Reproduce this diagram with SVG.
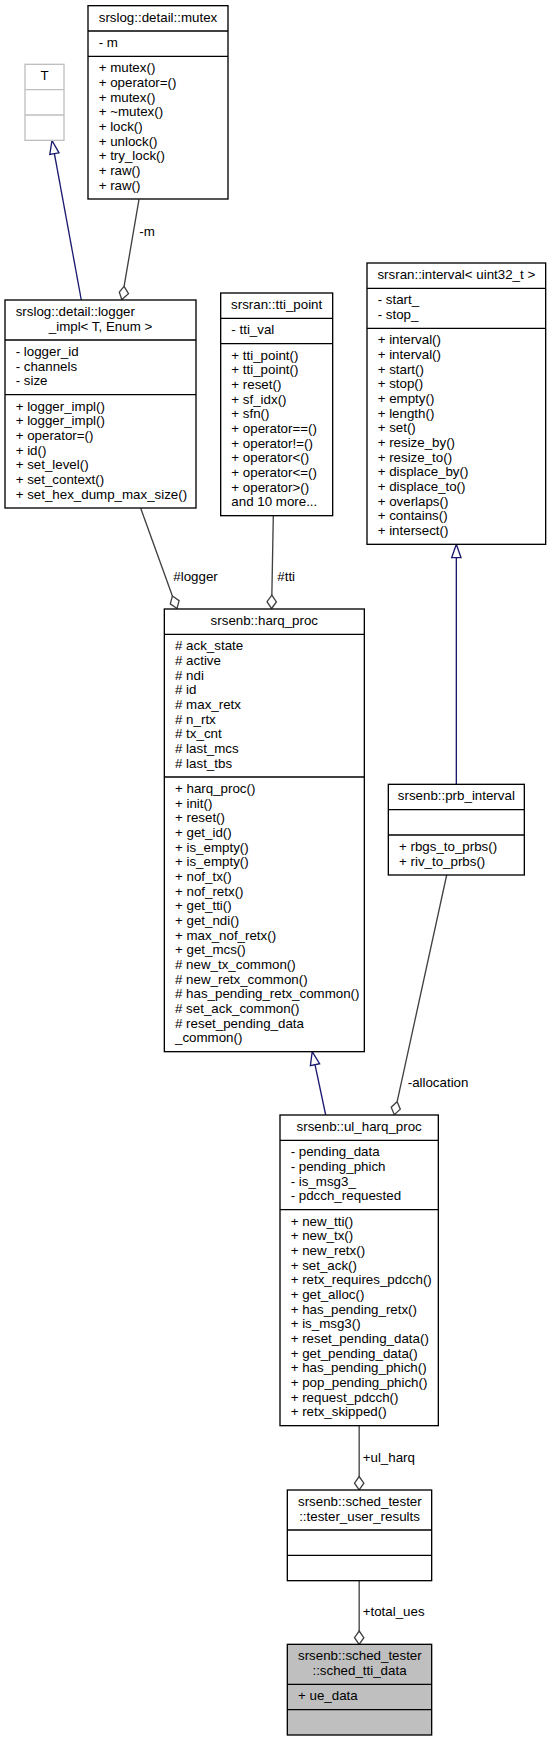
<svg xmlns="http://www.w3.org/2000/svg" width="551" height="1741" viewBox="0 0 551 1741">
<style>
text{font-family:"Liberation Sans",Arial,sans-serif;font-size:13.33px;fill:#000}
.c{text-anchor:middle}
.b{fill:#fff;stroke:#000;stroke-width:1.33}
.g{fill:#fff;stroke:#bfbfbf;stroke-width:1.33}
.h{fill:#bfbfbf;stroke:#000;stroke-width:1.33}
.s{stroke:#000;stroke-width:1.33}
.sg{stroke:#bfbfbf;stroke-width:1.33}
.u{fill:none;stroke:#404040;stroke-width:1.33}
.ud{fill:#fff;stroke:#404040;stroke-width:1.33}
.i{fill:none;stroke:#191970;stroke-width:1.33}
.it{fill:#fff;stroke:#191970;stroke-width:1.33}
</style>
<rect width="551" height="1741" fill="#fff"/>
<g id="connectors">
<path class="i" d="M81.3,300 L54.4,153.6"/>
<polygon class="it" points="52,140.5 59,152.8 49.8,154.4"/>
<path class="u" d="M139,199.3 L124.07,286.37"/>
<polygon class="ud" points="124.07,286.37 128.5,293.7 121.8,299.5 119.3,292.1"/>
<text x="139.3" y="235.5">-m</text>
<path class="u" d="M140.7,508.3 L172.4,596"/>
<polygon class="ud" points="172.4,596 179.1,600.6 177,608.5 170.3,603.9"/>
<text x="173.3" y="580.5">#logger</text>
<path class="u" d="M273.3,515.67 L271.85,595.2"/>
<polygon class="ud" points="271.85,595.2 276.4,601.9 271.6,608.5 267,601.7"/>
<text x="277.3" y="580.5">#tti</text>
<path class="i" d="M325.7,1115 L315,1064.7"/>
<polygon class="it" points="312.2,1051.67 319.6,1063.7 310.4,1065.7"/>
<path class="i" d="M456.33,784.33 L456.33,557.67"/>
<polygon class="it" points="456.33,544.33 461,557.67 451.66,557.67"/>
<path class="u" d="M446.7,875 L397.15,1101.7"/>
<polygon class="ud" points="397.15,1101.7 400.3,1109.2 394.3,1114.7 391.2,1107.2"/>
<text x="407.7" y="1087">-allocation</text>
<path class="u" d="M359.17,1425.67 L359.17,1476.5"/>
<polygon class="ud" points="359.17,1476.5 363.84,1483.2 359.17,1489.8 354.5,1483.2"/>
<text x="362.7" y="1461.5">+ul_harq</text>
<path class="u" d="M359.17,1580.67 L359.17,1631"/>
<polygon class="ud" points="359.17,1631 363.84,1637.7 359.17,1644.33 354.5,1637.7"/>
<text x="362.7" y="1616">+total_ues</text>
</g>
<g id="node_T">
<rect class="g" x="25" y="64.33" width="39" height="76"/>
<line class="sg" x1="25" y1="89.67" x2="64" y2="89.67"/>
<line class="sg" x1="25" y1="115" x2="64" y2="115"/>
<text class="c" x="44.5" y="80.33">T</text>
</g>
<g id="node_mutex">
<rect class="b" x="88" y="5.67" width="140" height="193.33"/>
<line class="s" x1="88" y1="31" x2="228" y2="31"/>
<line class="s" x1="88" y1="56.33" x2="228" y2="56.33"/>
<text class="c" x="158" y="21.67">srslog::detail::mutex</text>
<text x="98.67" y="47">- m</text>
<text x="98.67" y="72.33">+ mutex()</text>
<text x="98.67" y="87">+ operator=()</text>
<text x="98.67" y="101.67">+ mutex()</text>
<text x="98.67" y="116.33">+ ~mutex()</text>
<text x="98.67" y="131">+ lock()</text>
<text x="98.67" y="145.67">+ unlock()</text>
<text x="98.67" y="160.33">+ try_lock()</text>
<text x="98.67" y="175">+ raw()</text>
<text x="98.67" y="189.67">+ raw()</text>
</g>
<g id="node_logger_impl">
<rect class="b" x="5" y="300" width="191" height="208"/>
<line class="s" x1="5" y1="340" x2="196" y2="340"/>
<line class="s" x1="5" y1="394.67" x2="196" y2="394.67"/>
<text x="15.67" y="316">srslog::detail::logger</text>
<text class="c" x="100.5" y="330.67">_impl&lt; T, Enum &gt;</text>
<text x="15.67" y="356">- logger_id</text>
<text x="15.67" y="370.67">- channels</text>
<text x="15.67" y="385.33">- size</text>
<text x="15.67" y="410.67">+ logger_impl()</text>
<text x="15.67" y="425.33">+ logger_impl()</text>
<text x="15.67" y="440">+ operator=()</text>
<text x="15.67" y="454.67">+ id()</text>
<text x="15.67" y="469.33">+ set_level()</text>
<text x="15.67" y="484">+ set_context()</text>
<text x="15.67" y="498.67">+ set_hex_dump_max_size()</text>
</g>
<g id="node_tti_point">
<rect class="b" x="220.67" y="293" width="112" height="222.67"/>
<line class="s" x1="220.67" y1="318.33" x2="332.67" y2="318.33"/>
<line class="s" x1="220.67" y1="343.67" x2="332.67" y2="343.67"/>
<text class="c" x="276.67" y="309">srsran::tti_point</text>
<text x="231.33" y="334.33">- tti_val</text>
<text x="231.33" y="359.67">+ tti_point()</text>
<text x="231.33" y="374.33">+ tti_point()</text>
<text x="231.33" y="389">+ reset()</text>
<text x="231.33" y="403.67">+ sf_idx()</text>
<text x="231.33" y="418.33">+ sfn()</text>
<text x="231.33" y="433">+ operator==()</text>
<text x="231.33" y="447.67">+ operator!=()</text>
<text x="231.33" y="462.33">+ operator&lt;()</text>
<text x="231.33" y="477">+ operator&lt;=()</text>
<text x="231.33" y="491.67">+ operator&gt;()</text>
<text x="231.33" y="506.33">and 10 more...</text>
</g>
<g id="node_interval">
<rect class="b" x="367" y="263" width="178.67" height="281.33"/>
<line class="s" x1="367" y1="288.33" x2="545.67" y2="288.33"/>
<line class="s" x1="367" y1="328.33" x2="545.67" y2="328.33"/>
<text class="c" x="456.33" y="279">srsran::interval&lt; uint32_t &gt;</text>
<text x="377.67" y="304.33">- start_</text>
<text x="377.67" y="319">- stop_</text>
<text x="377.67" y="344.33">+ interval()</text>
<text x="377.67" y="359">+ interval()</text>
<text x="377.67" y="373.67">+ start()</text>
<text x="377.67" y="388.33">+ stop()</text>
<text x="377.67" y="403">+ empty()</text>
<text x="377.67" y="417.67">+ length()</text>
<text x="377.67" y="432.33">+ set()</text>
<text x="377.67" y="447">+ resize_by()</text>
<text x="377.67" y="461.67">+ resize_to()</text>
<text x="377.67" y="476.33">+ displace_by()</text>
<text x="377.67" y="491">+ displace_to()</text>
<text x="377.67" y="505.67">+ overlaps()</text>
<text x="377.67" y="520.33">+ contains()</text>
<text x="377.67" y="535">+ intersect()</text>
</g>
<g id="node_harq_proc">
<rect class="b" x="164.33" y="609" width="200" height="442.67"/>
<line class="s" x1="164.33" y1="634.33" x2="364.33" y2="634.33"/>
<line class="s" x1="164.33" y1="777" x2="364.33" y2="777"/>
<text class="c" x="264.33" y="625">srsenb::harq_proc</text>
<text x="175" y="650.33"># ack_state</text>
<text x="175" y="665"># active</text>
<text x="175" y="679.67"># ndi</text>
<text x="175" y="694.33"># id</text>
<text x="175" y="709"># max_retx</text>
<text x="175" y="723.67"># n_rtx</text>
<text x="175" y="738.33"># tx_cnt</text>
<text x="175" y="753"># last_mcs</text>
<text x="175" y="767.67"># last_tbs</text>
<text x="175" y="793">+ harq_proc()</text>
<text x="175" y="807.67">+ init()</text>
<text x="175" y="822.33">+ reset()</text>
<text x="175" y="837">+ get_id()</text>
<text x="175" y="851.67">+ is_empty()</text>
<text x="175" y="866.33">+ is_empty()</text>
<text x="175" y="881">+ nof_tx()</text>
<text x="175" y="895.67">+ nof_retx()</text>
<text x="175" y="910.33">+ get_tti()</text>
<text x="175" y="925">+ get_ndi()</text>
<text x="175" y="939.67">+ max_nof_retx()</text>
<text x="175" y="954.33">+ get_mcs()</text>
<text x="175" y="969"># new_tx_common()</text>
<text x="175" y="983.67"># new_retx_common()</text>
<text x="175" y="998.33"># has_pending_retx_common()</text>
<text x="175" y="1013"># set_ack_common()</text>
<text x="175" y="1027.67"># reset_pending_data</text>
<text x="175" y="1042.33">_common()</text>
</g>
<g id="node_prb_interval">
<rect class="b" x="388.33" y="784.33" width="136" height="90.67"/>
<line class="s" x1="388.33" y1="809.67" x2="524.33" y2="809.67"/>
<line class="s" x1="388.33" y1="835" x2="524.33" y2="835"/>
<text class="c" x="456.33" y="800.33">srsenb::prb_interval</text>
<text x="399" y="851">+ rbgs_to_prbs()</text>
<text x="399" y="865.67">+ riv_to_prbs()</text>
</g>
<g id="node_ul_harq_proc">
<rect class="b" x="280" y="1115" width="158.33" height="310.67"/>
<line class="s" x1="280" y1="1140.33" x2="438.33" y2="1140.33"/>
<line class="s" x1="280" y1="1209.67" x2="438.33" y2="1209.67"/>
<text class="c" x="359.17" y="1131">srsenb::ul_harq_proc</text>
<text x="290.67" y="1156.33">- pending_data</text>
<text x="290.67" y="1171">- pending_phich</text>
<text x="290.67" y="1185.67">- is_msg3_</text>
<text x="290.67" y="1200.33">- pdcch_requested</text>
<text x="290.67" y="1225.67">+ new_tti()</text>
<text x="290.67" y="1240.33">+ new_tx()</text>
<text x="290.67" y="1255">+ new_retx()</text>
<text x="290.67" y="1269.67">+ set_ack()</text>
<text x="290.67" y="1284.33">+ retx_requires_pdcch()</text>
<text x="290.67" y="1299">+ get_alloc()</text>
<text x="290.67" y="1313.67">+ has_pending_retx()</text>
<text x="290.67" y="1328.33">+ is_msg3()</text>
<text x="290.67" y="1343">+ reset_pending_data()</text>
<text x="290.67" y="1357.67">+ get_pending_data()</text>
<text x="290.67" y="1372.33">+ has_pending_phich()</text>
<text x="290.67" y="1387">+ pop_pending_phich()</text>
<text x="290.67" y="1401.67">+ request_pdcch()</text>
<text x="290.67" y="1416.33">+ retx_skipped()</text>
</g>
<g id="node_tester_user_results">
<rect class="b" x="287.33" y="1490" width="144.33" height="90.67"/>
<line class="s" x1="287.33" y1="1530" x2="431.67" y2="1530"/>
<line class="s" x1="287.33" y1="1555.33" x2="431.67" y2="1555.33"/>
<text x="298" y="1506">srsenb::sched_tester</text>
<text class="c" x="359.5" y="1520.67">::tester_user_results</text>
</g>
<g id="node_sched_tti_data">
<rect class="h" x="287.33" y="1644.33" width="144.33" height="90.67"/>
<line class="s" x1="287.33" y1="1684.33" x2="431.67" y2="1684.33"/>
<line class="s" x1="287.33" y1="1709.67" x2="431.67" y2="1709.67"/>
<text x="298" y="1660.33">srsenb::sched_tester</text>
<text class="c" x="359.5" y="1675">::sched_tti_data</text>
<text x="298" y="1700.33">+ ue_data</text>
</g>
</svg>
